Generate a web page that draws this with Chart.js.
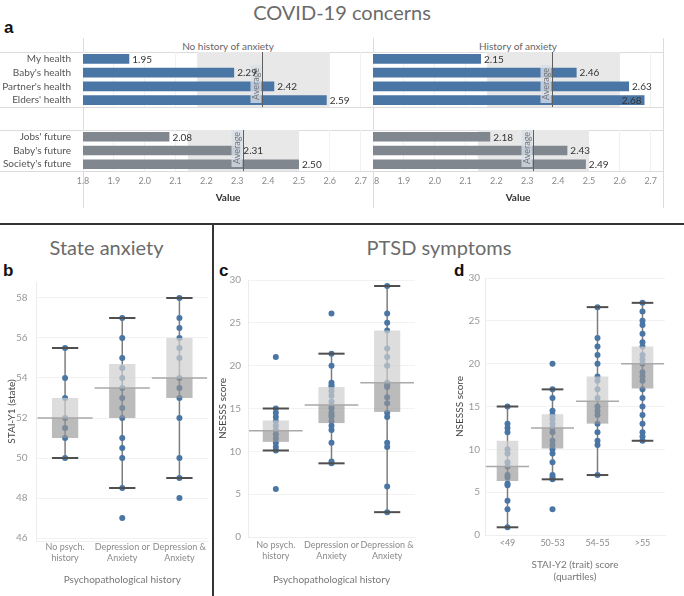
<!DOCTYPE html>
<html>
<head>
<meta charset="utf-8">
<script src="https://cdn.jsdelivr.net/npm/chart.js@4.4.1/dist/chart.umd.min.js"></script>
<style>
  body { margin: 0; width: 684px; height: 596px; position: relative; background: #fff; overflow: hidden; font-family: Lato, sans-serif; }
  canvas, .txt, .rule { position: absolute; }
  .txt { white-space: nowrap; }
  .big { font-size: 20px; color: #6b6b6b; line-height: 24px; text-align: center; }
  .letter { font-family: "Liberation Sans", Arial, sans-serif; font-weight: bold; font-size: 17px; color: #111; line-height: 18px; }
  .head { font-size: 10px; color: #666; line-height: 14px; text-align: center; }
  .pane { background: #dcdcdc; }
</style>
</head>
<body>
<div class="txt big" style="left:0;top:0;width:684px">COVID-19 concerns</div>
<div class="txt letter" style="left:4px;top:19px">a</div>
<div class="txt head" style="left:83px;top:39px;width:290px">No history of anxiety</div>
<div class="txt head" style="left:373px;top:39px;width:290px">History of anxiety</div>

<!-- pane frame of panel a -->
<div class="rule pane" style="left:83px;top:38px;width:1px;height:170px"></div>
<div class="rule pane" style="left:373px;top:38px;width:1px;height:170px"></div>
<div class="rule pane" style="left:663px;top:38px;width:1px;height:170px"></div>
<div class="rule pane" style="left:0;top:52px;width:664px;height:1px"></div>
<div class="rule pane" style="left:0;top:107px;width:664px;height:1px"></div>
<div class="rule pane" style="left:0;top:130px;width:664px;height:1px"></div>
<div class="rule pane" style="left:0;top:171px;width:664px;height:1px"></div>

<canvas id="healthNo" style="left:0;top:52px" width="373" height="55"></canvas>
<canvas id="healthYes" style="left:373px;top:52px" width="290" height="55"></canvas>
<canvas id="futureNo" style="left:0;top:130px" width="373" height="78"></canvas>
<canvas id="futureYes" style="left:373px;top:130px" width="290" height="78"></canvas>

<div class="rule" style="left:0;top:223px;width:684px;height:2px;background:#333"></div>
<div class="rule" style="left:212px;top:223px;width:2px;height:373px;background:#333"></div>

<div class="txt big" style="left:0;top:235px;width:213px">State anxiety</div>
<div class="txt big" style="left:213px;top:235px;width:452px">PTSD symptoms</div>
<div class="txt letter" style="left:3px;top:262px">b</div>
<div class="txt letter" style="left:219px;top:262px">c</div>
<div class="txt letter" style="left:454px;top:262px">d</div>

<canvas id="stateChart" style="left:0;top:258px" width="212" height="338"></canvas>
<canvas id="ptsdPsychChart" style="left:214px;top:258px" width="206" height="338"></canvas>
<canvas id="ptsdTraitChart" style="left:450px;top:258px" width="234" height="338"></canvas>

<script>
// ---- panel a: COVID-19 concerns ----
const healthLabels = ["My health", "Baby's health", "Partner's health", "Elders' health"];
const futureLabels = ["Jobs' future", "Baby's future", "Society's future"];
const healthNoHistory = [1.95, 2.29, 2.42, 2.59];
const healthHistory = [2.15, 2.46, 2.63, 2.68];
const futureNoHistory = [2.08, 2.31, 2.50];
const futureHistory = [2.18, 2.43, 2.49];
const healthAverage = 2.38;
const healthBand = [2.17, 2.60];
const futureAverage = 2.32;
const futureBand = [2.14, 2.50];

// ---- panel b: state anxiety by psychopathological history ----
const psychCats = [["No psych.", "history"], ["Depression or", "Anxiety"], ["Depression &", "Anxiety"]];
const stateLow = [50, 48.5, 49];
const stateQ1 = [51, 52, 53];
const stateMedian = [52, 53.5, 54];
const stateQ3 = [53, 54.7, 56];
const stateHigh = [55.5, 57, 58];
const statePoints = [
  [55.5, 54, 53, 52, 51.5, 51, 50],
  [57, 56, 55, 54.5, 54, 53.5, 53, 52.5, 52, 51, 50.5, 50, 48.5, 47],
  [58, 57, 56.5, 56, 55.5, 55, 54, 53.5, 53, 52, 50, 49, 48]
];

// ---- panel c: PTSD symptoms by psychopathological history ----
const psychLow = [10.1, 8.6, 2.9];
const psychQ1 = [11.1, 13.3, 14.6];
const psychMedian = [12.4, 15.4, 18];
const psychQ3 = [13.6, 17.5, 24.1];
const psychHigh = [15, 21.4, 29.3];
const psychPoints = [
  [21, 15, 14.5, 14, 13.5, 13, 12.5, 12, 11.5, 11, 10.5, 10.1, 5.6],
  [26.1, 21.4, 20, 18, 17.7, 17.5, 17, 16.5, 15.8, 15.3, 15, 14.5, 14.2, 14, 13.5, 13, 12.5, 11, 8.8, 8.6],
  [29.3, 26.1, 25, 24.1, 22, 21, 20, 18, 17.7, 17.5, 16.3, 15.6, 14.5, 14, 11, 10.5, 5.9, 2.9]
];

// ---- panel d: PTSD symptoms by trait anxiety quartile ----
const traitCats = ["<49", "50-53", "54-55", ">55"];
const traitLow = [0.9, 6.5, 7, 11];
const traitQ1 = [6.3, 10.1, 13, 17.1];
const traitMedian = [8, 12.5, 15.6, 20];
const traitQ3 = [11, 14.1, 18.5, 22];
const traitHigh = [15, 17, 26.6, 27.1];
const traitPoints = [
  [15, 13, 12.5, 12, 10, 9.5, 8.5, 8, 7, 6.7, 6, 5.8, 4, 3, 0.9],
  [20, 17, 16, 14.5, 14, 13.5, 13, 12.5, 12, 11, 10.5, 10, 9.5, 8.5, 7, 6.7, 6.5, 3],
  [26.6, 23, 22, 21, 20, 18.5, 18, 17, 16, 15, 14.5, 14, 13, 12, 11, 10.5, 7],
  [27.1, 26.1, 25, 24.5, 23.5, 22.5, 22, 21, 20.5, 20, 19, 18.5, 18, 17, 16, 15, 14, 13, 12, 11.5, 11]
];

Chart.defaults.font.family = "Lato, sans-serif";
Chart.defaults.font.size = 10;
Chart.defaults.color = '#666';
Chart.defaults.animation = false;
Chart.defaults.plugins.legend.display = false;
Chart.defaults.plugins.tooltip.enabled = false;

const BLUE = '#4a76a5';
const GREY = '#80878f';

// shaded band, average line and the bar value labels
const refPlugin = {
  id: 'ref',
  beforeDatasetsDraw(chart, args, opts) {
    const { ctx, chartArea: a, scales: { x } } = chart;
    const x0 = x.getPixelForValue(opts.band[0]);
    const x1 = x.getPixelForValue(opts.band[1]);
    ctx.save();
    ctx.fillStyle = '#e8e8e8';
    ctx.fillRect(x0, a.top, x1 - x0, a.bottom - a.top);
    ctx.restore();
  },
  afterDatasetsDraw(chart, args, opts) {
    const { ctx, chartArea: a, scales: { x } } = chart;
    const ax = Math.round(x.getPixelForValue(opts.avg)) + 0.5;

    // "Average" tag
    ctx.save();
    ctx.font = "9px Lato, sans-serif";
    const tw = ctx.measureText('Average').width;
    const h = tw + 6;
    ctx.fillStyle = 'rgba(214,222,232,0.8)';
    ctx.fillRect(ax - 12, a.bottom - 4 - h, 11, h);
    ctx.translate(ax - 6.5, a.bottom - 4 - h / 2);
    ctx.rotate(-Math.PI / 2);
    ctx.fillStyle = '#777';
    ctx.textAlign = 'center';
    ctx.textBaseline = 'middle';
    ctx.fillText('Average', 0, 0);
    ctx.restore();

    ctx.save();
    ctx.strokeStyle = '#5f5f5f';
    ctx.lineWidth = 1;
    ctx.beginPath();
    ctx.moveTo(ax, a.top);
    ctx.lineTo(ax, a.bottom);
    ctx.stroke();

    // value labels
    ctx.font = "10px Lato, sans-serif";
    ctx.fillStyle = '#333';
    ctx.textBaseline = 'middle';
    const values = chart.data.datasets[0].data;
    chart.getDatasetMeta(0).data.forEach((bar, i) => {
      const s = values[i].toFixed(2);
      const w = ctx.measureText(s).width;
      if (bar.x + 3 + w > a.right) {
        ctx.textAlign = 'right';
        ctx.fillText(s, bar.x - 3, bar.y + 0.5);
      } else {
        ctx.textAlign = 'left';
        ctx.fillText(s, bar.x + 3, bar.y + 0.5);
      }
    });
    ctx.restore();
  }
};

function concernChart(id, labels, values, color, band, avg, withLabels, withAxis) {
  return new Chart(document.getElementById(id), {
    type: 'bar',
    data: {
      labels: labels,
      datasets: [{ data: values, backgroundColor: color, barPercentage: 0.7, categoryPercentage: 1 }]
    },
    options: {
      indexAxis: 'y',
      responsive: false,
      layout: { padding: 0 },
      scales: {
        x: {
          min: 1.8,
          max: 2.74,
          border: { display: false },
          grid: { color: '#f1f1f1', drawTicks: false },
          ticks: {
            display: withAxis, stepSize: 0.1, includeBounds: false, padding: 5,
            color: '#8a8a8a', font: { size: 9 }, maxRotation: 0,
            callback: v => v.toFixed(1)
          },
          title: { display: withAxis, text: 'Value', color: '#333', font: { size: 10, weight: 'bold' }, padding: { top: 2, bottom: 4 } },
          afterFit: s => { s.height = withAxis ? 37 : 0; s.paddingLeft = 0; s.paddingRight = 0; }
        },
        y: {
          display: withLabels,
          grid: { display: false },
          border: { display: false },
          ticks: { color: '#555', font: { size: 10 }, padding: 4, autoSkip: false },
          afterFit: s => { s.width = withLabels ? 83 : 0; s.paddingTop = 0; s.paddingBottom = 0; }
        }
      },
      plugins: { ref: { band: band, avg: avg } }
    },
    plugins: [refPlugin]
  });
}

concernChart('healthNo', healthLabels, healthNoHistory, BLUE, healthBand, healthAverage, true, false);
concernChart('healthYes', healthLabels, healthHistory, BLUE, healthBand, healthAverage, false, false);
concernChart('futureNo', futureLabels, futureNoHistory, GREY, futureBand, futureAverage, true, true);
concernChart('futureYes', futureLabels, futureHistory, GREY, futureBand, futureAverage, false, true);

// whiskers, caps and medians for the box plots
const boxPlugin = {
  id: 'boxes',
  beforeDatasetsDraw(chart, args, opts) {
    const { ctx, scales: { x, y } } = chart;
    ctx.save();
    ctx.strokeStyle = '#7d7d7d';
    ctx.lineWidth = 1.5;
    opts.low.forEach((lo, i) => {
      const px = x.getPixelForValue(i);
      ctx.beginPath();
      ctx.moveTo(px, y.getPixelForValue(lo));
      ctx.lineTo(px, y.getPixelForValue(opts.high[i]));
      ctx.stroke();
    });
    ctx.restore();
  },
  afterDatasetsDraw(chart, args, opts) {
    const { ctx, scales: { x, y } } = chart;
    const band = x.width / opts.low.length;
    ctx.save();
    opts.low.forEach((lo, i) => {
      const px = x.getPixelForValue(i);
      // median across the whole band
      ctx.strokeStyle = '#a9a9a9';
      ctx.lineWidth = 1.5;
      const my = y.getPixelForValue(opts.median[i]);
      ctx.beginPath();
      ctx.moveTo(px - band / 2 + 1, my);
      ctx.lineTo(px + band / 2 - 1, my);
      ctx.stroke();
      // caps
      ctx.strokeStyle = '#4f4f4f';
      ctx.lineWidth = 2;
      const hw = band * opts.boxWidth / 2;
      [lo, opts.high[i]].forEach(v => {
        const vy = y.getPixelForValue(v);
        ctx.beginPath();
        ctx.moveTo(px - hw, vy);
        ctx.lineTo(px + hw, vy);
        ctx.stroke();
      });
    });
    ctx.restore();
  }
};

function boxChart(id, cats, low, q1, median, q3, high, points, cfg) {
  const labels = cats.map(c => Array.isArray(c) ? c.join(' ') : c);
  const pts = [];
  points.forEach((arr, i) => arr.forEach(v => pts.push({ x: labels[i], y: v })));
  return new Chart(document.getElementById(id), {
    type: 'bar',
    data: {
      labels: labels,
      datasets: [
        { type: 'line', data: pts, showLine: false, pointRadius: 3, pointBorderWidth: 0,
          pointBackgroundColor: BLUE, order: 3 },
        { data: q1.map((v, i) => [v, median[i]]), backgroundColor: 'rgba(150,150,150,0.65)',
          grouped: false, barPercentage: cfg.boxWidth, categoryPercentage: 1, order: 1 },
        { data: median.map((v, i) => [v, q3[i]]), backgroundColor: 'rgba(206,206,206,0.7)',
          grouped: false, barPercentage: cfg.boxWidth, categoryPercentage: 1, order: 1 }
      ]
    },
    options: {
      responsive: false,
      layout: { padding: cfg.padding },
      scales: {
        x: {
          grid: { display: false, drawTicks: false },
          border: { color: '#efefef' },
          ticks: { color: '#8a8a8a', font: { size: 9 }, padding: cfg.tickPad, maxRotation: 0, autoSkip: false,
                   callback: (v, i) => cats[i] },
          title: { display: true, text: cfg.xTitle, color: '#777', font: { size: 10 }, padding: { top: 0, bottom: cfg.xTitlePad } },
          afterFit: s => { s.height = cfg.xHeight; s.paddingLeft = 0; s.paddingRight = 0; }
        },
        y: {
          min: cfg.yMin,
          max: cfg.yMax,
          grid: { color: '#f2f2f2', drawTicks: false },
          border: { color: '#ececec' },
          ticks: { stepSize: cfg.yStep, includeBounds: false, color: '#999', font: { size: 10 }, padding: cfg.yTickPad },
          title: { display: true, text: cfg.yTitle, color: '#444', font: { size: 10 }, padding: { top: cfg.yTitlePad, bottom: 0 } },
          afterFit: s => { s.width = cfg.yWidth; s.paddingTop = 0; s.paddingBottom = 0; }
        }
      },
      plugins: { boxes: { low: low, median: median, high: high, boxWidth: cfg.boxWidth } }
    },
    plugins: [boxPlugin]
  });
}

boxChart('stateChart', psychCats, stateLow, stateQ1, stateMedian, stateQ3, stateHigh, statePoints, {
  padding: { top: 24, right: 4, left: 0, bottom: 0 }, boxWidth: 0.46,
  xHeight: 55, tickPad: 1, xTitle: 'Psychopathological history', xTitlePad: 10,
  yMin: 45.85, yMax: 58.8, yStep: 2, yTitle: 'STAI-Y1 (state)', yTitlePad: 6, yTickPad: 9, yWidth: 36.5
});

boxChart('ptsdPsychChart', psychCats, psychLow, psychQ1, psychMedian, psychQ3, psychHigh, psychPoints, {
  padding: { top: 22, right: 5, left: 0, bottom: 0 }, boxWidth: 0.47,
  xHeight: 59, tickPad: 3, xTitle: 'Psychopathological history', xTitlePad: 10,
  yMin: 0, yMax: 30, yStep: 5, yTitle: 'NSESSS score', yTitlePad: 3, yTickPad: 7, yWidth: 34
});

boxChart('ptsdTraitChart', traitCats, traitLow, traitQ1, traitMedian, traitQ3, traitHigh, traitPoints, {
  padding: { top: 20, right: 19, left: 0, bottom: 0 }, boxWidth: 0.48,
  xHeight: 61, tickPad: 3, xTitle: ['STAI-Y2 (trait) score', '(quartiles)'], xTitlePad: 13,
  yMin: 0, yMax: 30, yStep: 5, yTitle: 'NSESSS score', yTitlePad: 4, yTickPad: 5, yWidth: 35
});
</script>
</body>
</html>
